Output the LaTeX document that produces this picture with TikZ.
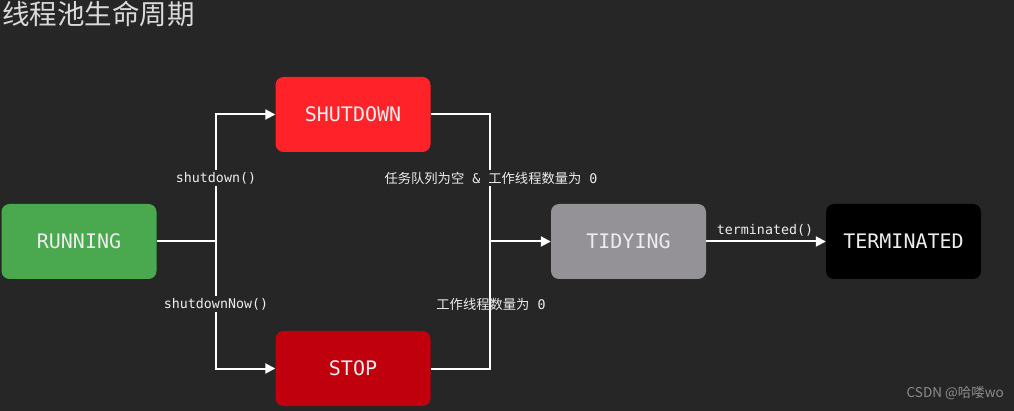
\documentclass[tikz,border=0pt]{standalone}
\usepackage{fontspec}
\setmonofont{DejaVu Sans Mono}
\newfontfamily\cjk{Noto Sans CJK SC}
\usetikzlibrary{arrows.meta}
\definecolor{bg}{HTML}{262626}
\definecolor{cgreen}{HTML}{4AA84F}
\definecolor{cred}{HTML}{FF2229}
\definecolor{cdred}{HTML}{C1000D}
\definecolor{cgrey}{HTML}{949296}
\definecolor{ctext}{HTML}{EDEDED}
\tikzset{
  state/.style={rounded corners=8pt, minimum width=155pt, minimum height=75pt, inner sep=0pt,
    text=ctext, font=\ttfamily\fontsize{20}{24}\selectfont},
  conn/.style={draw=white, line width=2pt},
  arr/.style={conn, -{Triangle[length=10pt,width=10pt]}},
  lbl/.style={text=ctext, font=\ttfamily\fontsize{13.3}{16}\selectfont, inner sep=2pt},
  lblbg/.style={lbl, fill=bg}
}
\begin{document}
\begin{tikzpicture}[x=1pt,y=-1pt]
\fill[bg] (0,0) rectangle (1014,411);
\useasboundingbox (0,0) rectangle (1014,411);
\node[anchor=north west, text=ctext!92!black, font=\cjk\fontsize{27.5}{32}\selectfont, inner sep=0pt] (title) at (2,1) {线程池生命周期};
\node[state, fill=cgreen] (run) at (79,241.5) {RUNNING};
\node[state, fill=cred] (shut) at (353,114.5) {SHUTDOWN};
\node[state, fill=cdred] (stop) at (353,368.5) {STOP};
\node[state, fill=cgrey] (tidy) at (628.5,241.5) {TIDYING};
\node[state, fill=black] (term) at (903.5,241.5) {TERMINATED};
\coordinate (j1) at (216,241.5);
\coordinate (j2) at (490,241.5);
\draw[conn] (run.east) -- (j1);
\draw[arr] (j1) |- (shut.west);
\draw[arr] (j1) |- (stop.west);
\draw[conn] (shut.east) -| (j2);
\draw[conn] (stop.east) -| (j2);
\draw[arr] (j2) -- (tidy.west);
\draw[arr] (tidy.east) -- (term.west);
\node[lblbg] (l1) at (216,178) {shutdown()};
\node[lblbg] (l2) at (216,304) {shutdownNow()};
\node[lblbg] (l3) at (491,178) {{\cjk 任务队列为空} \& {\cjk 工作线程数量为} 0};
\node[lbl] (l4) at (491,304) {{\cjk 工作线程数量为} 0};
\node[lbl] (l5) at (765,230) {terminated()};
\node[text=gray!90, font=\cjk\fontsize{13.5}{16}\selectfont, anchor=east, inner sep=0pt] (wm) at (1004,393) {CSDN @哈喽wo};
\end{tikzpicture}
\end{document}
